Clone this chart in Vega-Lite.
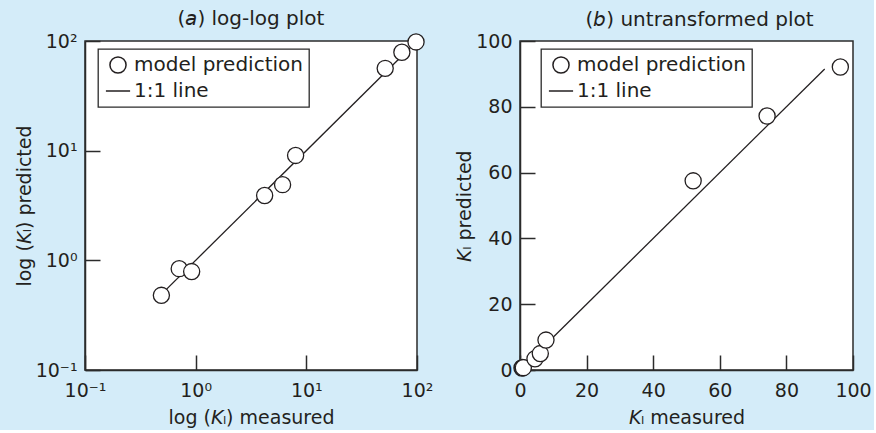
{
  "$schema": "https://vega.github.io/schema/vega-lite/v6.json",
  "background": "#d4ecf9",
  "padding": {"left": 14, "top": 8, "right": 2, "bottom": 2},
  "spacing": 20,
  "datasets": {
    "logPoints": [
      {"measured": 0.49, "predicted": 0.48, "series": "model prediction"},
      {"measured": 0.71, "predicted": 0.84, "series": "model prediction"},
      {"measured": 0.92, "predicted": 0.79, "series": "model prediction"},
      {"measured": 4.2, "predicted": 3.9, "series": "model prediction"},
      {"measured": 6.1, "predicted": 4.9, "series": "model prediction"},
      {"measured": 8.0, "predicted": 9.05, "series": "model prediction"},
      {"measured": 51.6, "predicted": 56.3, "series": "model prediction"},
      {"measured": 73, "predicted": 79, "series": "model prediction"},
      {"measured": 98, "predicted": 98, "series": "model prediction"}
    ],
    "logLine": [
      {"measured": 0.5, "predicted": 0.5},
      {"measured": 91.5, "predicted": 91.5}
    ],
    "linPoints": [
      {"measured": 0.6, "predicted": 0.6, "series": "model prediction"},
      {"measured": 0.8, "predicted": 0.8, "series": "model prediction"},
      {"measured": 1.0, "predicted": 0.7, "series": "model prediction"},
      {"measured": 4.5, "predicted": 3.4, "series": "model prediction"},
      {"measured": 6.1, "predicted": 5.0, "series": "model prediction"},
      {"measured": 7.8, "predicted": 9.1, "series": "model prediction"},
      {"measured": 52, "predicted": 57.5, "series": "model prediction"},
      {"measured": 74.2, "predicted": 77.2, "series": "model prediction"},
      {"measured": 96.2, "predicted": 92.1, "series": "model prediction"}
    ],
    "linLine": [
      {"measured": 0, "predicted": 0},
      {"measured": 91.5, "predicted": 91.5}
    ]
  },
  "hconcat": [
    {
      "width": 332,
      "height": 329,
      "title": {"text": "(𝘢) log-log plot", "offset": 2},
      "layer": [
        {
          "data": {"name": "logLine"},
          "mark": {"type": "line", "color": "#231f20", "strokeWidth": 1.3},
          "encoding": {
            "x": {
              "field": "measured", "type": "quantitative",
              "scale": {"type": "log", "domain": [0.1, 100]},
              "axis": {
                "title": "log (𝘒ₗ) measured",
                "values": [0.1, 1, 10, 100],
                "labelExpr": "datum.value < 0.5 ? '10⁻¹' : datum.value < 5 ? '10⁰' : datum.value < 50 ? '10¹' : '10²'"
              }
            },
            "y": {
              "field": "predicted", "type": "quantitative",
              "scale": {"type": "log", "domain": [0.1, 100]},
              "axis": {
                "title": "log (𝘒ₗ) predicted",
                "values": [0.1, 1, 10, 100],
                "labelExpr": "datum.value < 0.5 ? '10⁻¹' : datum.value < 5 ? '10⁰' : datum.value < 50 ? '10¹' : '10²'"
              }
            }
          }
        },
        {
          "data": {"name": "logPoints"},
          "mark": {"type": "point", "filled": true, "fill": "white", "stroke": "#231f20", "strokeWidth": 1.3, "size": 260, "opacity": 1},
          "encoding": {
            "x": {"field": "measured", "type": "quantitative"},
            "y": {"field": "predicted", "type": "quantitative"},
            "shape": {
              "field": "series", "type": "nominal",
              "scale": {"domain": ["model prediction", "1:1 line"], "range": ["circle", "M-1.5,0H1.5"]},
              "legend": {"orient": "none", "legendX": 13, "legendY": 8}
            }
          }
        }
      ]
    },
    {
      "width": 333,
      "height": 329,
      "title": {"text": "(𝘣) untransformed plot", "offset": 2, "dx": 13},
      "layer": [
        {
          "data": {"name": "linLine"},
          "mark": {"type": "line", "color": "#231f20", "strokeWidth": 1.3},
          "encoding": {
            "x": {
              "field": "measured", "type": "quantitative",
              "scale": {"domain": [0, 100], "nice": false},
              "axis": {"title": "𝘒ₗ measured", "values": [0, 20, 40, 60, 80, 100]}
            },
            "y": {
              "field": "predicted", "type": "quantitative",
              "scale": {"domain": [0, 100], "nice": false},
              "axis": {"title": "𝘒ₗ predicted", "values": [0, 20, 40, 60, 80, 100]}
            }
          }
        },
        {
          "data": {"name": "linPoints"},
          "mark": {"type": "point", "filled": true, "fill": "white", "stroke": "#231f20", "strokeWidth": 1.3, "size": 260, "opacity": 1},
          "encoding": {
            "x": {"field": "measured", "type": "quantitative"},
            "y": {"field": "predicted", "type": "quantitative"},
            "shape": {
              "field": "series", "type": "nominal",
              "scale": {"domain": ["model prediction", "1:1 line"], "range": ["circle", "M-1.5,0H1.5"]},
              "legend": {"orient": "none", "legendX": 21, "legendY": 8}
            }
          }
        }
      ]
    }
  ],
  "resolve": {"scale": {"shape": "independent"}, "legend": {"shape": "independent"}},
  "config": {
    "font": "DejaVu Sans",
    "view": {"stroke": "#2b2b2b", "strokeWidth": 1.5, "fill": "white"},
    "axis": {
      "grid": false,
      "domainColor": "#2b2b2b", "domainWidth": 1.5,
      "tickColor": "#2b2b2b", "tickWidth": 1.5, "tickSize": -15,
      "labelFont": "DejaVu Sans", "labelFontSize": 19, "labelColor": "#231f20",
      "labelFlush": false, "labelOverlap": false,
      "titleFont": "DejaVu Sans", "titleFontSize": 19, "titleFontWeight": "normal", "titleColor": "#231f20"
    },
    "axisX": {"labelPadding": 26, "titlePadding": 8},
    "axisY": {"labelPadding": 23, "titlePadding": 1},
    "title": {"font": "DejaVu Sans", "fontSize": 20, "fontWeight": "normal", "color": "#231f20", "anchor": "middle"},
    "legend": {
      "title": null,
      "strokeColor": "#2b2b2b", "strokeWidth": 1.3, "fillColor": "white",
      "padding": 6, "rowPadding": 4,
      "labelFont": "DejaVu Sans", "labelFontSize": 20, "labelColor": "#231f20", "labelLimit": 400,
      "symbolSize": 260, "symbolOffset": 4, "labelOffset": 6,
      "encode": {
        "symbols": {
          "update": {
            "fill": {"value": "white"},
            "stroke": {"value": "#231f20"},
            "strokeWidth": {"value": 1.3},
            "opacity": {"value": 1}
          }
        }
      }
    }
  }
}
